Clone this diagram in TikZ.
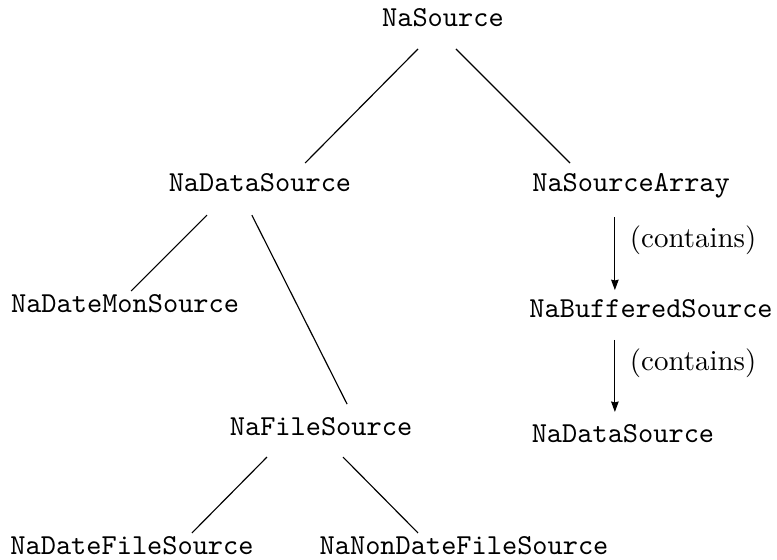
\documentclass[tikz,border=0pt]{standalone}
\usetikzlibrary{arrows.meta}
\tikzset{
  cls/.style={font=\ttfamily, inner sep=0pt, anchor=base},
  has/.style={-{Stealth[length=3.6pt,width=2.6pt,inset=0.3pt]}},
  haslabel/.style={font=\rmfamily, inner sep=0pt, anchor=west, xshift=5pt, pos=0.32}
}
\begin{document}
\begin{tikzpicture}[x=1pt,y=1pt]
  \useasboundingbox (0,0) rectangle (268.4,-193.4);
  % class names
  \node[cls] (src)   at (153.0,-9.3)   {NaSource};
  \node[cls] (dsrc)  at (89.8,-66.3)   {NaDataSource};
  \node[cls] (arr)   at (218.0,-66.3)  {NaSourceArray};
  \node[cls] (mon)   at (43.2,-108.1)  {NaDateMonSource};
  \node[cls] (buf)   at (224.9,-109.5) {NaBufferedSource};
  \node[cls] (fsrc)  at (110.9,-150.3) {NaFileSource};
  \node[cls] (dsrc2) at (215.2,-152.7) {NaDataSource};
  \node[cls] (dfs)   at (45.6,-191.7)  {NaDateFileSource};
  \node[cls] (ndfs)  at (160.3,-191.7) {NaNonDateFileSource};
  % inheritance
  \draw ([shift={(-8.6,-7.6)}]src.base) -- ([shift={(15.6,10.0)}]dsrc.base);
  \draw ([shift={(4.5,-7.6)}]src.base) -- ([shift={(-21.1,10.0)}]arr.base);
  \draw ([shift={(-18.3,-8.0)}]dsrc.base) -- ([shift={(2.1,7.6)}]mon.base);
  \draw ([shift={(-2.8,-8.0)}]dsrc.base) -- ([shift={(9.0,10.7)}]fsrc.base);
  \draw ([shift={(-18.7,-7.6)}]fsrc.base) -- ([shift={(20.7,7.6)}]dfs.base);
  \draw ([shift={(7.6,-7.6)}]fsrc.base) -- ([shift={(-15.9,7.6)}]ndfs.base);
  % containment
  \draw[has] ([shift={(-5.6,-8.7)}]arr.base) -- ([shift={(-12.5,9.3)}]buf.base)
    node[haslabel] {(contains)};
  \draw[has] ([shift={(-12.5,-7.9)}]buf.base) -- ([shift={(-2.8,10.4)}]dsrc2.base)
    node[haslabel] {(contains)};
\end{tikzpicture}
\end{document}
